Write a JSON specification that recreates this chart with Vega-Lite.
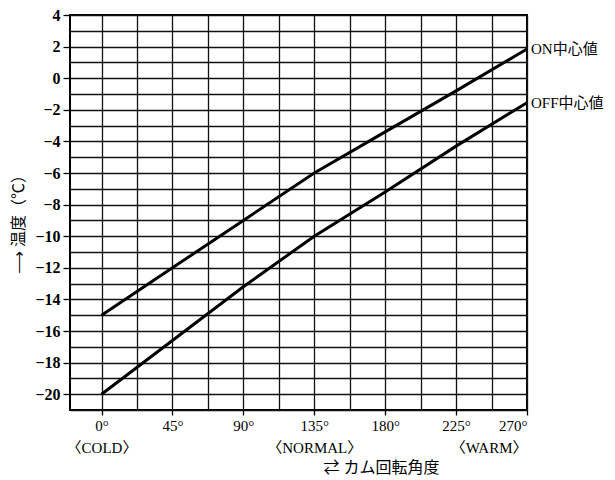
{
  "$schema": "https://vega.github.io/schema/vega-lite/v6.json",
  "width": 457,
  "height": 395,
  "autosize": "none",
  "padding": {"left": 70, "top": 15, "right": 88, "bottom": 70},
  "background": "white",
  "config": {
    "view": {"stroke": "black", "strokeWidth": 2},
    "font": "Liberation Serif, Noto Sans CJK JP",
    "axis": {
      "gridColor": "#111",
      "gridWidth": 1.3,
      "gridOpacity": 1,
      "domain": false,
      "tickColor": "black",
      "labelColor": "black",
      "titleColor": "black",
      "labelOverlap": false,
      "labelFont": "Liberation Serif, Noto Sans CJK JP",
      "titleFont": "Liberation Serif, Noto Sans CJK JP"
    }
  },
  "data": {
    "values": [
      {"deg": 0, "temp": -15, "series": "ON中心値"},
      {"deg": 45, "temp": -12, "series": "ON中心値"},
      {"deg": 90, "temp": -9, "series": "ON中心値"},
      {"deg": 135, "temp": -6, "series": "ON中心値"},
      {"deg": 180, "temp": -3.4, "series": "ON中心値"},
      {"deg": 225, "temp": -0.8, "series": "ON中心値"},
      {"deg": 270, "temp": 1.85, "series": "ON中心値"},
      {"deg": 0, "temp": -20, "series": "OFF中心値"},
      {"deg": 45, "temp": -16.6, "series": "OFF中心値"},
      {"deg": 90, "temp": -13.2, "series": "OFF中心値"},
      {"deg": 135, "temp": -10, "series": "OFF中心値"},
      {"deg": 180, "temp": -7.2, "series": "OFF中心値"},
      {"deg": 225, "temp": -4.3, "series": "OFF中心値"},
      {"deg": 270, "temp": -1.55, "series": "OFF中心値"}
    ]
  },
  "layer": [
    {
      "mark": {"type": "line", "color": "black", "strokeWidth": 3},
      "encoding": {
        "x": {
          "field": "deg",
          "type": "quantitative",
          "scale": {"domain": [-20, 270], "nice": false, "zero": false},
          "axis": {
            "values": [0, 22.5, 45, 67.5, 90, 112.5, 135, 157.5, 180, 202.5, 225, 247.5, 270],
            "tickCount": 100,
            "grid": true,
            "tickSize": 5,
            "tickWidth": 1.3,
            "tickOpacity": {"condition": {"test": "datum.value % 45 == 0", "value": 1}, "value": 0},
            "labelExpr": "datum.value == 0 ? ['0°', '〈COLD〉'] : datum.value == 135 ? ['135°', '〈NORMAL〉'] : datum.value == 270 ? ['270°', '〈WARM〉'] : datum.value % 45 == 0 ? datum.value + '°' : ''",
            "labelFontSize": 15,
            "labelLineHeight": 22,
            "labelPadding": 3,
            "labelBaseline": "top",
            "title": "⇄ カム回転角度",
            "titleFontSize": 16,
            "titleFontWeight": "normal",
            "titlePadding": 4,
            "titleX": 311
          }
        },
        "y": {
          "field": "temp",
          "type": "quantitative",
          "scale": {"domain": [-21, 4], "nice": false, "zero": false},
          "axis": {
            "values": [-21, -20, -19, -18, -17, -16, -15, -14, -13, -12, -11, -10, -9, -8, -7, -6, -5, -4, -3, -2, -1, 0, 1, 2, 3, 4],
            "tickCount": 100,
            "format": "d",
            "grid": true,
            "tickSize": 7,
            "tickWidth": 1.3,
            "tickOpacity": {"condition": {"test": "datum.value % 2 == 0", "value": 1}, "value": 0},
            "labelExpr": "datum.value % 2 == 0 ? datum.label : ''",
            "labelFontSize": 16,
            "labelFontWeight": "bold",
            "labelPadding": 3,
            "title": "⟶ 温度（℃）",
            "titleFontSize": 16,
            "titleFontWeight": "normal",
            "titlePadding": 8,
            "titleY": 205
          }
        },
        "detail": {"field": "series"}
      }
    },
    {
      "transform": [{"filter": "datum.deg == 270"}],
      "mark": {"type": "text", "align": "left", "dx": 4, "fontSize": 15, "color": "black"},
      "encoding": {
        "x": {"field": "deg", "type": "quantitative"},
        "y": {"field": "temp", "type": "quantitative"},
        "text": {"field": "series"}
      }
    }
  ]
}
